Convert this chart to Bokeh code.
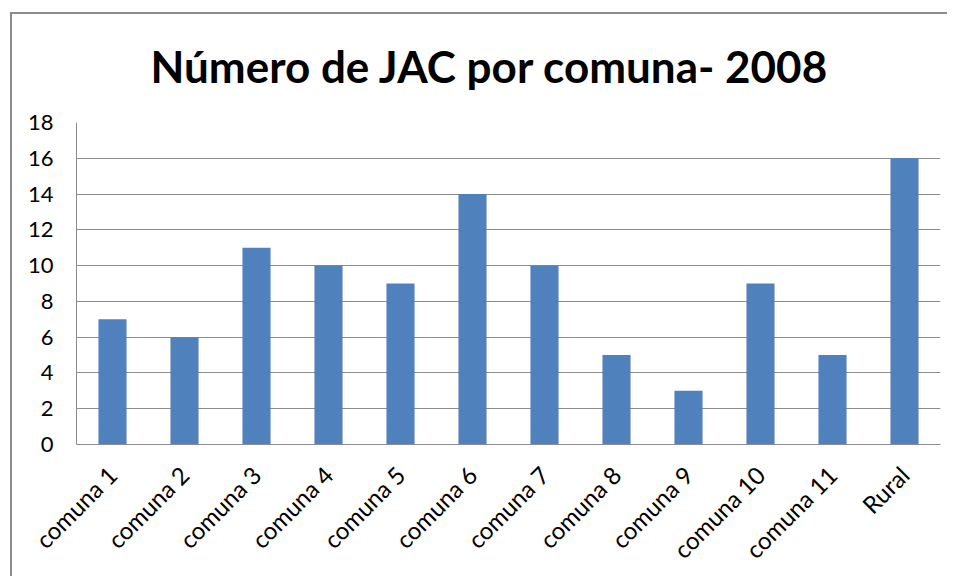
from math import pi
from bokeh.plotting import figure
from bokeh.models import FixedTicker, Range1d
from bokeh.embed import file_html
from bokeh.resources import INLINE

categories = ["comuna 1", "comuna 2", "comuna 3", "comuna 4", "comuna 5", "comuna 6",
              "comuna 7", "comuna 8", "comuna 9", "comuna 10", "comuna 11", "Rural"]
values = [7, 6, 11, 10, 9, 14, 10, 5, 3, 9, 5, 16]
y_ticks = [0, 2, 4, 6, 8, 10, 12, 14, 16, 18]

FONT = "Lato"

p = figure(x_range=categories, y_range=Range1d(0, 18), width=947, height=576,
           output_backend="svg", toolbar_location=None,
           title="Número de JAC por comuna- 2008")
p.min_border_left = 76
p.min_border_right = 7
p.min_border_top = 122
p.min_border_bottom = 131
p.outline_line_color = None
p.border_fill_color = None
p.styles = {
    "background": "linear-gradient(#8c8c8c, #8c8c8c) 10px 12px / 2px 100% no-repeat, "
                  "linear-gradient(#8c8c8c, #8c8c8c) 10px 12px / 100% 2px no-repeat, white"
}

p.title.text_font = FONT
p.title.text_font_style = "bold"
p.title.text_font_size = "44px"
p.title.align = "left"
p.title.offset = 74
p.title.standoff = 61
p.title.text_color = "black"

p.vbar(x=categories, top=values, width=0.39, fill_color="#4F81BD", line_color=None)

p.yaxis.ticker = FixedTicker(ticks=y_ticks)
p.yaxis.major_label_text_font = FONT
p.yaxis.major_label_text_font_size = "22px"
p.yaxis.major_label_text_color = "black"
p.yaxis.major_tick_line_color = None
p.yaxis.minor_tick_line_color = None
p.yaxis.axis_line_color = "#8c8c8c"
p.yaxis.major_label_standoff = 17

p.xaxis.major_label_orientation = pi / 4
p.xaxis.major_label_text_font = FONT
p.xaxis.major_label_text_font_size = "24px"
p.xaxis.major_label_text_color = "black"
p.xaxis.major_tick_line_color = None
p.xaxis.axis_line_color = "#8c8c8c"
p.xaxis.major_label_standoff = 20

p.xgrid.grid_line_color = None
p.ygrid.grid_line_color = "#8c8c8c"
p.ygrid.grid_line_width = 1

p.x_range.range_padding = 0

open("out.html", "w").write(file_html(p, INLINE))
